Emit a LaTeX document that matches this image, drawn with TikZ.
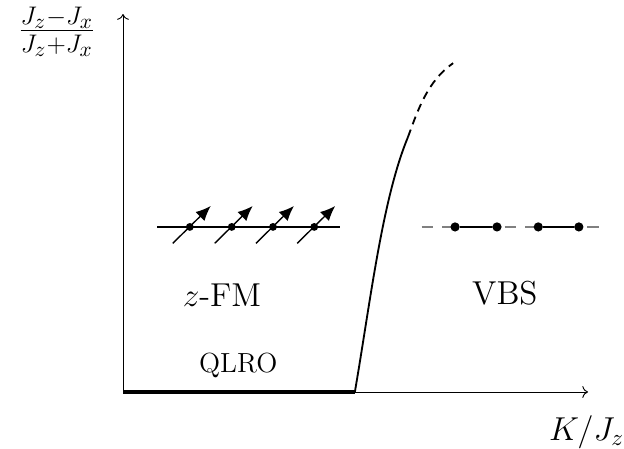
\documentclass[tikz,border=0pt]{standalone}
\usepackage{amsmath}
\usetikzlibrary{arrows.meta,calc}

\begin{document}
\begin{tikzpicture}[
    axis/.style={->, thin},
    spin/.style={circle, fill, inner sep=0pt, minimum size=3.4pt},
    site/.style={circle, fill, inner sep=0pt, minimum size=4pt},
    spinarrow/.style={-{Latex[length=6.5pt,width=5.5pt]}, semithick},
    bond/.style={very thick},
    chain/.style={very thick},
    gapline/.style={gray, thick, dash pattern=on 5pt off 4pt}
  ]
    \useasboundingbox (-1.878,-0.870) rectangle (7.649,5.985);

    % axes
    \coordinate (o) at (0,0);
    \coordinate (xend) at (7.10,0);
    \coordinate (yend) at (0,5.77);
    \coordinate (qend) at (3.54,0);
    \draw[axis] (o) -- (xend);
    \draw[axis] (o) -- (yend);
    \node (xlab) at (7.08,-0.61) {\Large $K/J_z$};
    \node[scale=0.92] (ylab) at (-1.01,5.50) {\LARGE $\frac{J_z-J_x}{J_z+J_x}$};

    % phase boundary
    \draw[line width=1.8pt] (o) -- (qend);
    \coordinate (bmid) at (4.35,3.89);
    \coordinate (bend) at (5.04,5.02);
    \draw[thick] (qend) .. controls (3.78,1.4) and (3.96,2.95) .. (bmid);
    \draw[thick, dash pattern=on 3.5pt off 2.5pt] (bmid) .. controls (4.5,4.3) and (4.65,4.75) .. (bend);

    % ferromagnet
    \coordinate (fl) at (0.52,2.52);
    \coordinate (fr) at (3.31,2.52);
    \draw[chain] (fl) -- (fr);
    \node[spin] (s1) at (1.02,2.52) {};
    \node[spin] (s2) at (1.66,2.52) {};
    \node[spin] (s3) at (2.29,2.52) {};
    \node[spin] (s4) at (2.92,2.52) {};
    \foreach \s in {s1,s2,s3,s4}
      \draw[spinarrow] ($(\s)+(-0.26,-0.25)$) -- ($(\s)+(0.32,0.32)$);

    % valence bond solid
    \coordinate (vl) at (4.56,2.52);
    \coordinate (vr) at (7.31,2.52);
    \draw[gapline] (vl) -- (vr);
    \node[site] (d1) at (5.07,2.52) {};
    \node[site] (d2) at (5.71,2.52) {};
    \node[site] (d3) at (6.34,2.52) {};
    \node[site] (d4) at (6.96,2.52) {};
    \draw[bond] (d1) -- (d2);
    \draw[bond] (d3) -- (d4);

    \node (fm) at (1.51,1.48) {\Large $z$-FM};
    \node (vbs) at (5.83,1.51) {\Large VBS};
    \node (qlro) at (1.76,0.40) {\large QLRO};
  \end{tikzpicture}
\end{document}
